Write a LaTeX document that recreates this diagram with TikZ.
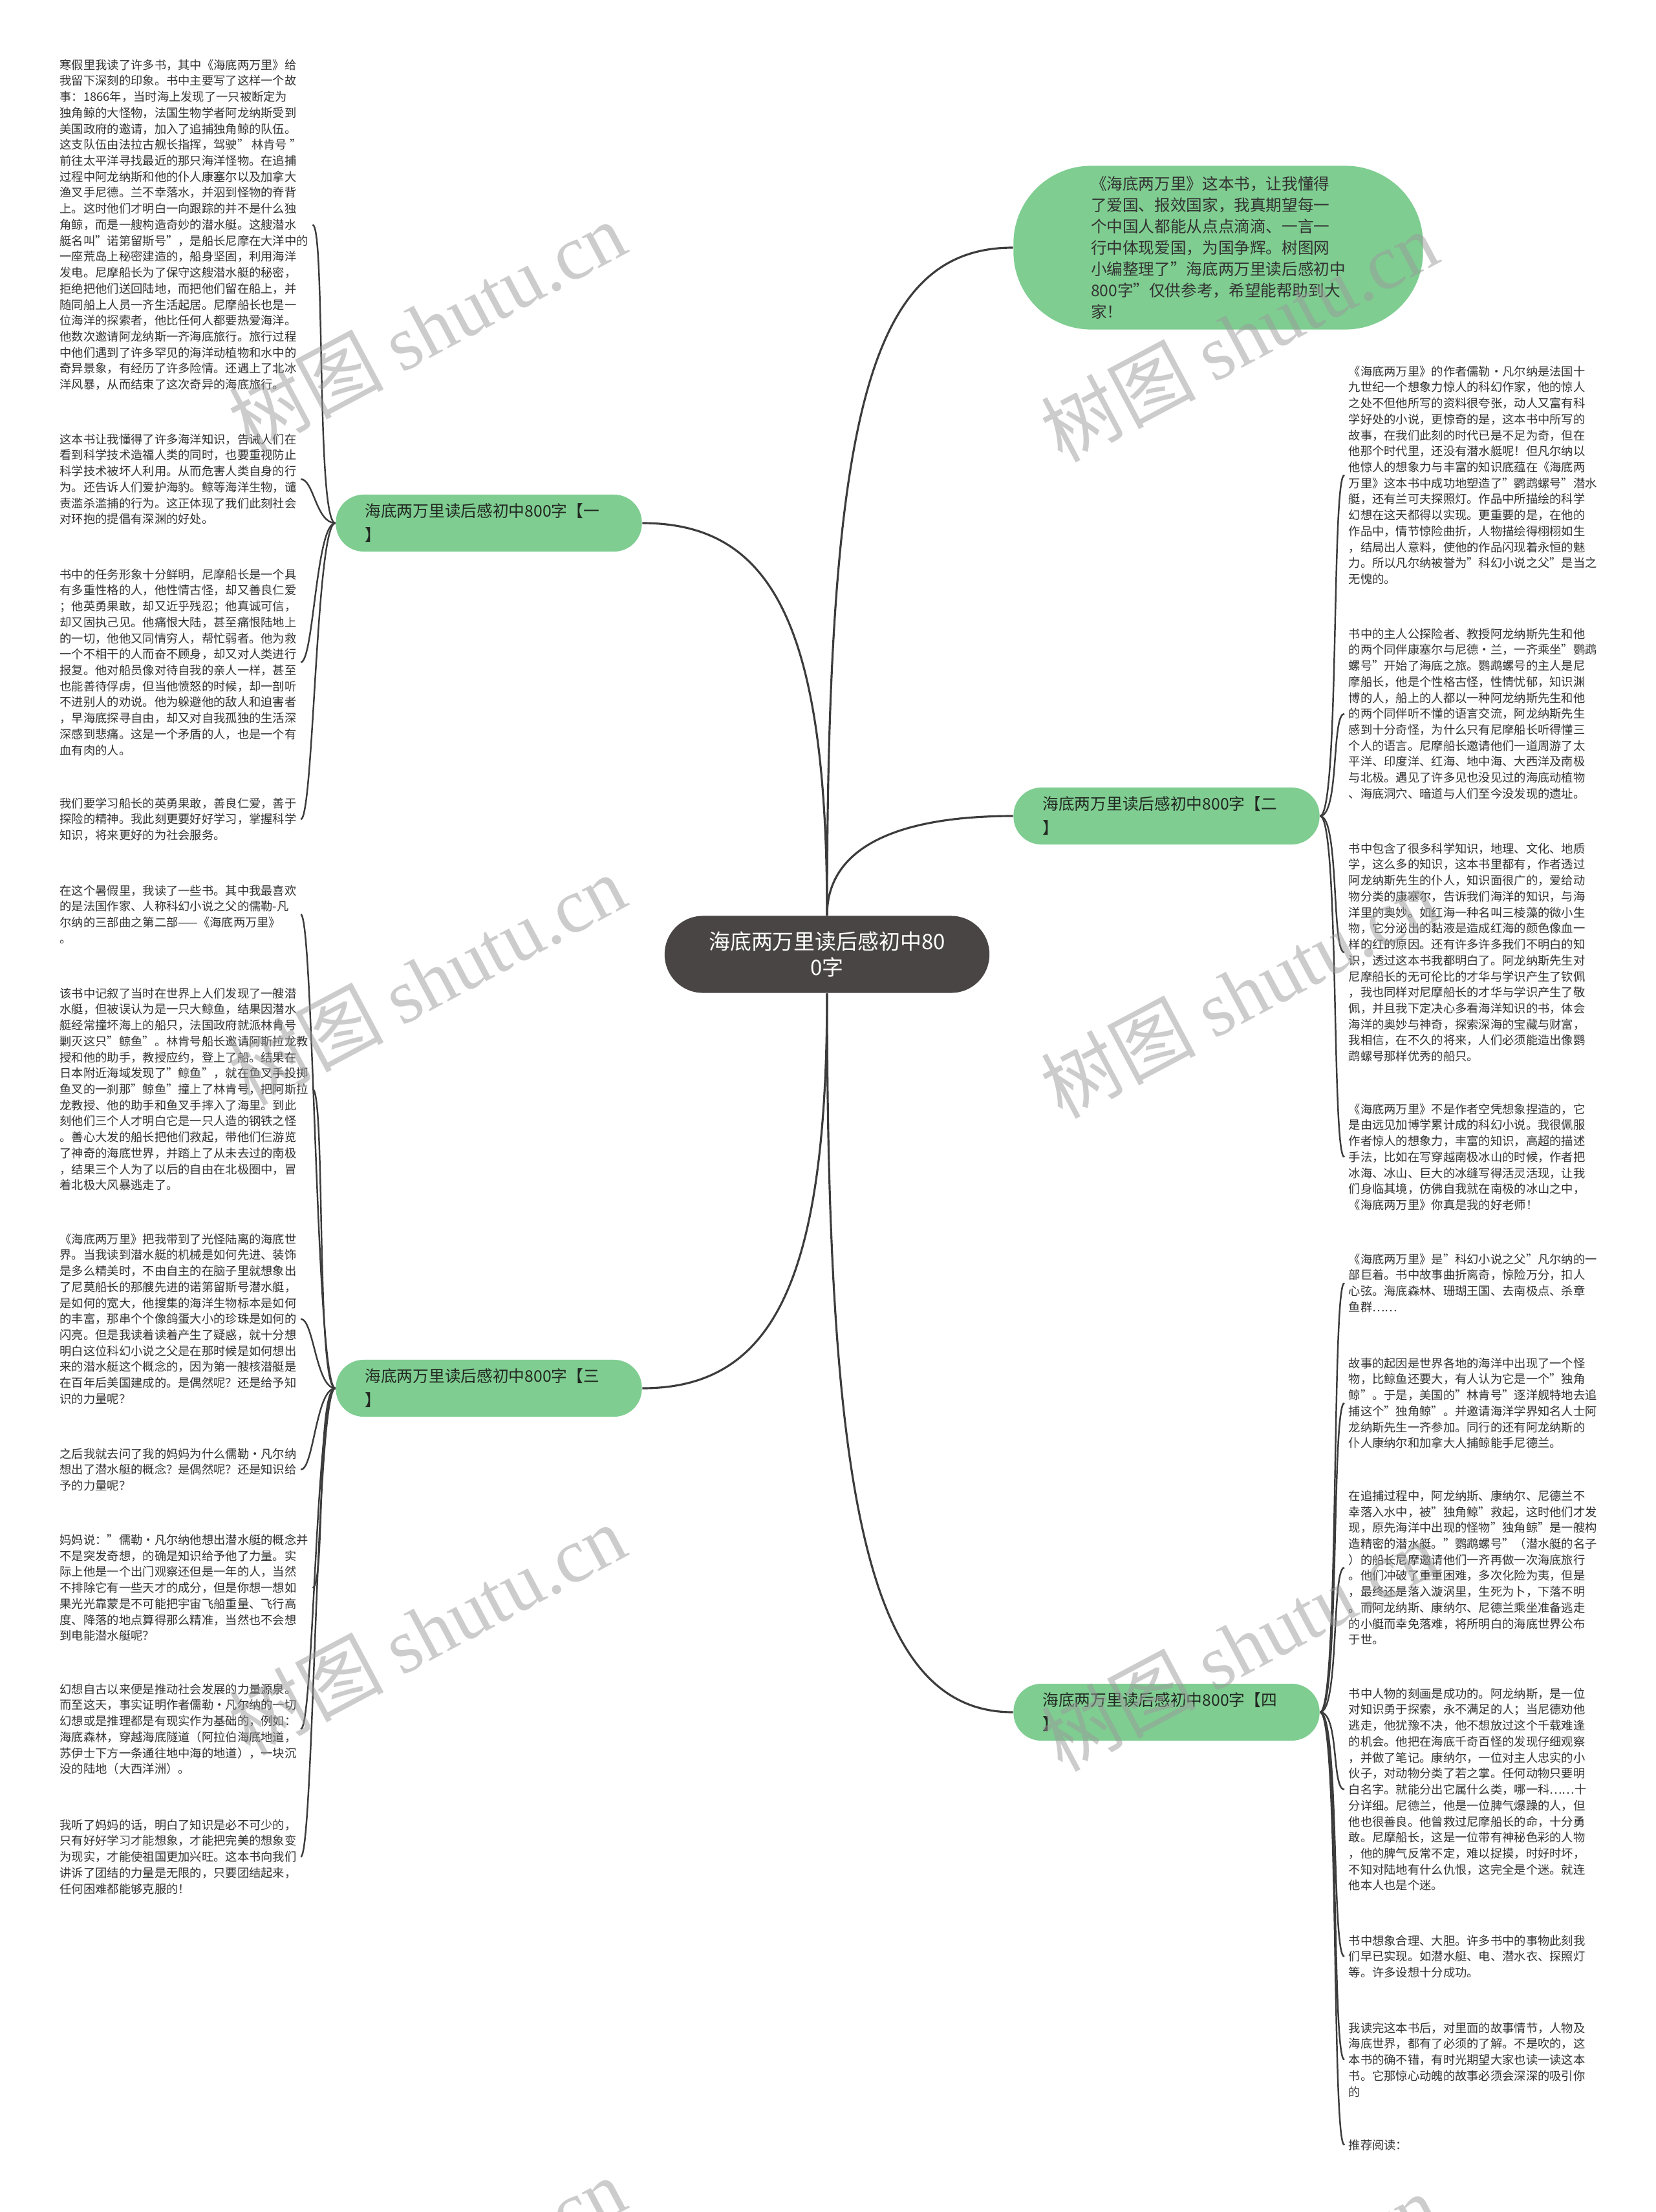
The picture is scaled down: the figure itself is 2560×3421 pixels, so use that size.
\documentclass[tikz,border=0pt]{standalone}
\usepackage{fontspec}
\setmainfont{Noto Sans CJK SC}
\newfontfamily\markfont{Liberation Serif}
\usepackage{xcolor}
\definecolor{leaf-green}{HTML}{7FCD91}
\definecolor{core-grey}{HTML}{4A4545}
\definecolor{link-grey}{HTML}{3C3C3C}
\definecolor{body-text}{HTML}{333333}
\definecolor{branch-text}{HTML}{222822}
\definecolor{mark-grey}{HTML}{9A9A9A}

\begin{document}
\begin{tikzpicture}[x=0.01cm, y=-0.01cm,
    leaf/.style={font=\fontsize{5.2pt}{7.03pt}\selectfont, text=body-text,
      align=left, inner xsep=0.06cm, inner ysep=0pt, anchor=north west},
    branch/.style={fill=leaf-green, rounded corners=0.43cm, minimum width=4.73cm,
      minimum height=0.88cm, text width=3.83cm, inner xsep=0.45cm, align=left,
      font=\fontsize{7.03pt}{10.5pt}\selectfont, text=branch-text},
    link/.style={draw=link-grey, line width=0.9pt},
    twig/.style={draw=link-grey, line width=0.7pt},
    stamp/.style={font=\fontsize{34pt}{34pt}\selectfont, text=mark-grey,
      text opacity=0.5, rotate=28}]
    % Mind map on a 2560 x 3421 px canvas, y grows downwards.
    % Coordinates: (x, y) in px
    %   core node at (1279,1476), 502 x 119
    %   summary note at (1884,383), 633 x 253
    %   branches at (756,809) (1804,1262) (756,2147) (1804,2648)
    %   left texts start x=86, right texts start x=2079
    \useasboundingbox[fill=white] (0,0) rectangle (2560,3421);

    \node[fill=core-grey, rounded corners=0.59cm, minimum width=5.02cm,
          minimum height=1.19cm, align=center, text=white,
          font=\fontsize{9.36pt}{11.3pt}\selectfont] (core) at (1279,1476)
          {海底两万里读后感初中80\\0字};

    \node[fill=leaf-green, rounded corners=1.2cm, minimum width=6.33cm,
          minimum height=2.53cm, align=left, text=body-text,
          font=\fontsize{7pt}{9.4pt}\selectfont] (note) at (1884,383)
          {《海底两万里》这本书，让我懂得\\了爱国、报效国家，我真期望每一\\个中国人都能从点点滴滴、一言一\\行中体现爱国，为国争辉。树图网\\小编整理了"海底两万里读后感初中\\800字"仅供参考，希望能帮助到大\\家！};

    \node[branch] (b1) at (756,809) {海底两万里读后感初中800字【一\\】};
    \node[branch] (b2) at (1804,1262) {海底两万里读后感初中800字【二\\】};
    \node[branch] (b3) at (756,2147) {海底两万里读后感初中800字【三\\】};
    \node[branch] (b4) at (1804,2648) {海底两万里读后感初中800字【四\\】};

    % left texts of branch one
    \node[leaf] (a1) at (86,91) {寒假里我读了许多书，其中《海底两万里》给\\我留下深刻的印象。书中主要写了这样一个故\\事：1866年，当时海上发现了一只被断定为\\独角鲸的大怪物，法国生物学者阿龙纳斯受到\\美国政府的邀请，加入了追捕独角鲸的队伍。\\这支队伍由法拉古舰长指挥，驾驶" 林肯号 "\\前往太平洋寻找最近的那只海洋怪物。在追捕\\过程中阿龙纳斯和他的仆人康塞尔以及加拿大\\渔叉手尼德。兰不幸落水，并泅到怪物的脊背\\上。这时他们才明白一向跟踪的并不是什么独\\角鲸，而是一艘构造奇妙的潜水艇。这艘潜水\\艇名叫"诺第留斯号"，是船长尼摩在大洋中的\\一座荒岛上秘密建造的，船身坚固，利用海洋\\发电。尼摩船长为了保守这艘潜水艇的秘密，\\拒绝把他们送回陆地，而把他们留在船上，并\\随同船上人员一齐生活起居。尼摩船长也是一\\位海洋的探索者，他比任何人都要热爱海洋。\\他数次邀请阿龙纳斯一齐海底旅行。旅行过程\\中他们遇到了许多罕见的海洋动植物和水中的\\奇异景象，有经历了许多险情。还遇上了北冰\\洋风暴，从而结束了这次奇异的海底旅行。};
    \node[leaf] (a2) at (86,670) {这本书让我懂得了许多海洋知识，告诫人们在\\看到科学技术造福人类的同时，也要重视防止\\科学技术被坏人利用。从而危害人类自身的行\\为。还告诉人们爱护海豹。鲸等海洋生物，谴\\责滥杀滥捕的行为。这正体现了我们此刻社会\\对环抱的提倡有深渊的好处。};
    \node[leaf] (a3) at (86,879) {书中的任务形象十分鲜明，尼摩船长是一个具\\有多重性格的人，他性情古怪，却又善良仁爱\\；他英勇果敢，却又近乎残忍；他真诚可信，\\却又固执己见。他痛恨大陆，甚至痛恨陆地上\\的一切，他他又同情穷人，帮忙弱者。他为救\\一个不相干的人而奋不顾身，却又对人类进行\\报复。他对船员像对待自我的亲人一样，甚至\\也能善待俘虏，但当他愤怒的时候，却一剖听\\不进别人的劝说。他为躲避他的敌人和迫害者\\，早海底探寻自由，却又对自我孤独的生活深\\深感到悲痛。这是一个矛盾的人，也是一个有\\血有肉的人。};
    \node[leaf] (a4) at (86,1233) {我们要学习船长的英勇果敢，善良仁爱，善于\\探险的精神。我此刻更要好好学习，掌握科学\\知识，将来更好的为社会服务。};

    % left texts of branch three
    \node[leaf] (c1) at (86,1368) {在这个暑假里，我读了一些书。其中我最喜欢\\的是法国作家、人称科幻小说之父的儒勒-凡\\尔纳的三部曲之第二部——《海底两万里》\\。};
    \node[leaf] (c2) at (86,1527) {该书中记叙了当时在世界上人们发现了一艘潜\\水艇，但被误认为是一只大鲸鱼，结果因潜水\\艇经常撞坏海上的船只，法国政府就派林肯号\\剿灭这只"鲸鱼"。林肯号船长邀请阿斯拉龙教\\授和他的助手，教授应约，登上了船。结果在\\日本附近海域发现了"鲸鱼"，就在鱼叉手投掷\\鱼叉的一刹那"鲸鱼"撞上了林肯号，把阿斯拉\\龙教授、他的助手和鱼叉手摔入了海里。到此\\刻他们三个人才明白它是一只人造的钢铁之怪\\。善心大发的船长把他们救起，带他们仨游览\\了神奇的海底世界，并踏上了从未去过的南极\\，结果三个人为了以后的自由在北极圈中，冒\\着北极大风暴逃走了。};
    \node[leaf] (c3) at (86,1907) {《海底两万里》把我带到了光怪陆离的海底世\\界。当我读到潜水艇的机械是如何先进、装饰\\是多么精美时，不由自主的在脑子里就想象出\\了尼莫船长的那艘先进的诺第留斯号潜水艇，\\是如何的宽大，他搜集的海洋生物标本是如何\\的丰富，那串个个像鸽蛋大小的珍珠是如何的\\闪亮。但是我读着读着产生了疑惑，就十分想\\明白这位科幻小说之父是在那时候是如何想出\\来的潜水艇这个概念的，因为第一艘核潜艇是\\在百年后美国建成的。是偶然呢？还是给予知\\识的力量呢？};
    \node[leaf] (c4) at (86,2239) {之后我就去问了我的妈妈为什么儒勒·凡尔纳\\想出了潜水艇的概念？是偶然呢？还是知识给\\予的力量呢？};
    \node[leaf] (c5) at (86,2372) {妈妈说："儒勒·凡尔纳他想出潜水艇的概念并\\不是突发奇想，的确是知识给予他了力量。实\\际上他是一个出门观察还但是一年的人，当然\\不排除它有一些天才的成分，但是你想一想如\\果光光靠蒙是不可能把宇宙飞船重量、飞行高\\度、降落的地点算得那么精准，当然也不会想\\到电能潜水艇呢？};
    \node[leaf] (c6) at (86,2603) {幻想自古以来便是推动社会发展的力量源泉。\\而至这天，事实证明作者儒勒·凡尔纳的一切\\幻想或是推理都是有现实作为基础的，例如：\\海底森林，穿越海底隧道（阿拉伯海底地道，\\苏伊士下方一条通往地中海的地道），一块沉\\没的陆地（大西洋洲）。};
    \node[leaf] (c7) at (86,2813) {我听了妈妈的话，明白了知识是必不可少的，\\只有好好学习才能想象，才能把完美的想象变\\为现实，才能使祖国更加兴旺。这本书向我们\\讲诉了团结的力量是无限的，只要团结起来，\\任何困难都能够克服的！};

    % right texts of branch two
    \node[leaf] (d1) at (2079,565) {《海底两万里》的作者儒勒·凡尔纳是法国十\\九世纪一个想象力惊人的科幻作家，他的惊人\\之处不但他所写的资料很夸张，动人又富有科\\学好处的小说，更惊奇的是，这本书中所写的\\故事，在我们此刻的时代已是不足为奇，但在\\他那个时代里，还没有潜水艇呢！但凡尔纳以\\他惊人的想象力与丰富的知识底蕴在《海底两\\万里》这本书中成功地塑造了"鹦鹉螺号"潜水\\艇，还有兰可夫探照灯。作品中所描绘的科学\\幻想在这天都得以实现。更重要的是，在他的\\作品中，情节惊险曲折，人物描绘得栩栩如生\\，结局出人意料，使他的作品闪现着永恒的魅\\力。所以凡尔纳被誉为"科幻小说之父"是当之\\无愧的。};
    \node[leaf] (d2) at (2079,971) {书中的主人公探险者、教授阿龙纳斯先生和他\\的两个同伴康塞尔与尼德·兰，一齐乘坐"鹦鹉\\螺号"开始了海底之旅。鹦鹉螺号的主人是尼\\摩船长，他是个性格古怪，性情忧郁，知识渊\\博的人，船上的人都以一种阿龙纳斯先生和他\\的两个同伴听不懂的语言交流，阿龙纳斯先生\\感到十分奇怪，为什么只有尼摩船长听得懂三\\个人的语言。尼摩船长邀请他们一道周游了太\\平洋、印度洋、红海、地中海、大西洋及南极\\与北极。遇见了许多见也没见过的海底动植物\\、海底洞穴、暗道与人们至今没发现的遗址。};
    \node[leaf] (d3) at (2079,1303) {书中包含了很多科学知识，地理、文化、地质\\学，这么多的知识，这本书里都有，作者透过\\阿龙纳斯先生的仆人，知识面很广的，爱给动\\物分类的康塞尔，告诉我们海洋的知识，与海\\洋里的奥妙。如红海一种名叫三棱藻的微小生\\物，它分泌出的黏液是造成红海的颜色像血一\\样的红的原因。还有许多许多我们不明白的知\\识，透过这本书我都明白了。阿龙纳斯先生对\\尼摩船长的无可伦比的才华与学识产生了钦佩\\，我也同样对尼摩船长的才华与学识产生了敬\\佩，并且我下定决心多看海洋知识的书，体会\\海洋的奥妙与神奇，探索深海的宝藏与财富，\\我相信，在不久的将来，人们必须能造出像鹦\\鹉螺号那样优秀的船只。};
    \node[leaf] (d4) at (2079,1706) {《海底两万里》不是作者空凭想象捏造的，它\\是由远见加博学累计成的科幻小说。我很佩服\\作者惊人的想象力，丰富的知识，高超的描述\\手法，比如在写穿越南极冰山的时候，作者把\\冰海、冰山、巨大的冰缝写得活灵活现，让我\\们身临其境，仿佛自我就在南极的冰山之中，\\《海底两万里》你真是我的好老师！};

    % right texts of branch four
    \node[leaf] (e1) at (2079,1938) {《海底两万里》是"科幻小说之父"凡尔纳的一\\部巨着。书中故事曲折离奇，惊险万分，扣人\\心弦。海底森林、珊瑚王国、去南极点、杀章\\鱼群……};
    \node[leaf] (e2) at (2079,2099) {故事的起因是世界各地的海洋中出现了一个怪\\物，比鲸鱼还要大，有人认为它是一个"独角\\鲸"。于是，美国的"林肯号"逐洋舰特地去追\\捕这个"独角鲸"。并邀请海洋学界知名人士阿\\龙纳斯先生一齐参加。同行的还有阿龙纳斯的\\仆人康纳尔和加拿大人捕鲸能手尼德兰。};
    \node[leaf] (e3) at (2079,2304) {在追捕过程中，阿龙纳斯、康纳尔、尼德兰不\\幸落入水中，被"独角鲸"救起，这时他们才发\\现，原先海洋中出现的怪物"独角鲸"是一艘构\\造精密的潜水艇。"鹦鹉螺号"（潜水艇的名子\\）的船长尼摩邀请他们一齐再做一次海底旅行\\。他们冲破了重重困难，多次化险为夷，但是\\，最终还是落入漩涡里，生死为卜，下落不明\\。而阿龙纳斯、康纳尔、尼德兰乘坐准备逃走\\的小艇而幸免落难，将所明白的海底世界公布\\于世。};
    \node[leaf] (e4) at (2079,2610) {书中人物的刻画是成功的。阿龙纳斯，是一位\\对知识勇于探索，永不满足的人；当尼德劝他\\逃走，他犹豫不决，他不想放过这个千载难逢\\的机会。他把在海底千奇百怪的发现仔细观察\\，并做了笔记。康纳尔，一位对主人忠实的小\\伙子，对动物分类了若之掌。任何动物只要明\\白名字。就能分出它属什么类，哪一科……十\\分详细。尼德兰，他是一位脾气爆躁的人，但\\他也很善良。他曾救过尼摩船长的命，十分勇\\敢。尼摩船长，这是一位带有神秘色彩的人物\\，他的脾气反常不定，难以捉摸，时好时坏，\\不知对陆地有什么仇恨，这完全是个迷。就连\\他本人也是个迷。};
    \node[leaf] (e5) at (2079,2992) {书中想象合理、大胆。许多书中的事物此刻我\\们早已实现。如潜水艇、电、潜水衣、探照灯\\等。许多设想十分成功。};
    \node[leaf] (e6) at (2079,3127) {我读完这本书后，对里面的故事情节，人物及\\海底世界，都有了必须的了解。不是吹的，这\\本书的确不错，有时光期望大家也读一读这本\\书。它那惊心动魄的故事必须会深深的吸引你\\的};
    \node[leaf] (e7) at (2079,3308) {推荐阅读：};

    % core to note and branches
    \draw[link] (core.north) .. controls +(0,-780) and +(-220,0) .. (note.west);
    \draw[link] (core.north) .. controls +(0,-450) and +(200,0) .. (b1.east);
    \draw[link] (core.north) .. controls +(0,-110) and +(-170,0) .. (b2.west);
    \draw[link] (core.south) .. controls +(0,450) and +(200,0) .. (b3.east);
    \draw[link] (core.south) .. controls +(0,800) and +(-220,0) .. (b4.west);

    % branches to texts
    \draw[twig] (b1.west) .. controls +(-30,0) and +(20,0) .. (a1.east);
    \draw[twig] (b1.west) .. controls +(-30,0) and +(20,0) .. (a2.east);
    \draw[twig] (b1.west) .. controls +(-30,0) and +(20,0) .. (a3.east);
    \draw[twig] (b1.west) .. controls +(-30,0) and +(20,0) .. (a4.east);
    \draw[twig] (b3.west) .. controls +(-30,0) and +(20,0) .. (c1.east);
    \draw[twig] (b3.west) .. controls +(-30,0) and +(20,0) .. (c2.east);
    \draw[twig] (b3.west) .. controls +(-30,0) and +(20,0) .. (c3.east);
    \draw[twig] (b3.west) .. controls +(-30,0) and +(20,0) .. (c4.east);
    \draw[twig] (b3.west) .. controls +(-30,0) and +(20,0) .. (c5.east);
    \draw[twig] (b3.west) .. controls +(-30,0) and +(20,0) .. (c6.east);
    \draw[twig] (b3.west) .. controls +(-30,0) and +(20,0) .. (c7.east);
    \draw[twig] (b2.east) .. controls +(30,0) and +(-20,0) .. (d1.west);
    \draw[twig] (b2.east) .. controls +(30,0) and +(-20,0) .. (d2.west);
    \draw[twig] (b2.east) .. controls +(30,0) and +(-20,0) .. (d3.west);
    \draw[twig] (b2.east) .. controls +(30,0) and +(-20,0) .. (d4.west);
    \draw[twig] (b4.east) .. controls +(30,0) and +(-20,0) .. (e1.west);
    \draw[twig] (b4.east) .. controls +(30,0) and +(-20,0) .. (e2.west);
    \draw[twig] (b4.east) .. controls +(30,0) and +(-20,0) .. (e3.west);
    \draw[twig] (b4.east) .. controls +(30,0) and +(-20,0) .. (e4.west);
    \draw[twig] (b4.east) .. controls +(30,0) and +(-20,0) .. (e5.west);
    \draw[twig] (b4.east) .. controls +(30,0) and +(-20,0) .. (e6.west);
    \draw[twig] (b4.east) .. controls +(30,0) and +(-20,0) .. (e7.west);

    % watermark
    \begin{scope}
      \clip (0,0) rectangle (2560,3421);
      \node[stamp] (w1) at (660,505) {树图 {\markfont shutu.cn}};
      \node[stamp] (w2) at (1916,520) {树图 {\markfont shutu.cn}};
      \node[stamp] (w3) at (660,1515) {树图 {\markfont shutu.cn}};
      \node[stamp] (w4) at (1916,1535) {树图 {\markfont shutu.cn}};
      \node[stamp] (w5) at (660,2520) {树图 {\markfont shutu.cn}};
      \node[stamp] (w6) at (1916,2545) {树图 {\markfont shutu.cn}};
      \node[stamp] (w7) at (660,3530) {树图 {\markfont shutu.cn}};
      \node[stamp] (w8) at (1916,3555) {树图 {\markfont shutu.cn}};
    \end{scope}
  \end{tikzpicture}
\end{document}
